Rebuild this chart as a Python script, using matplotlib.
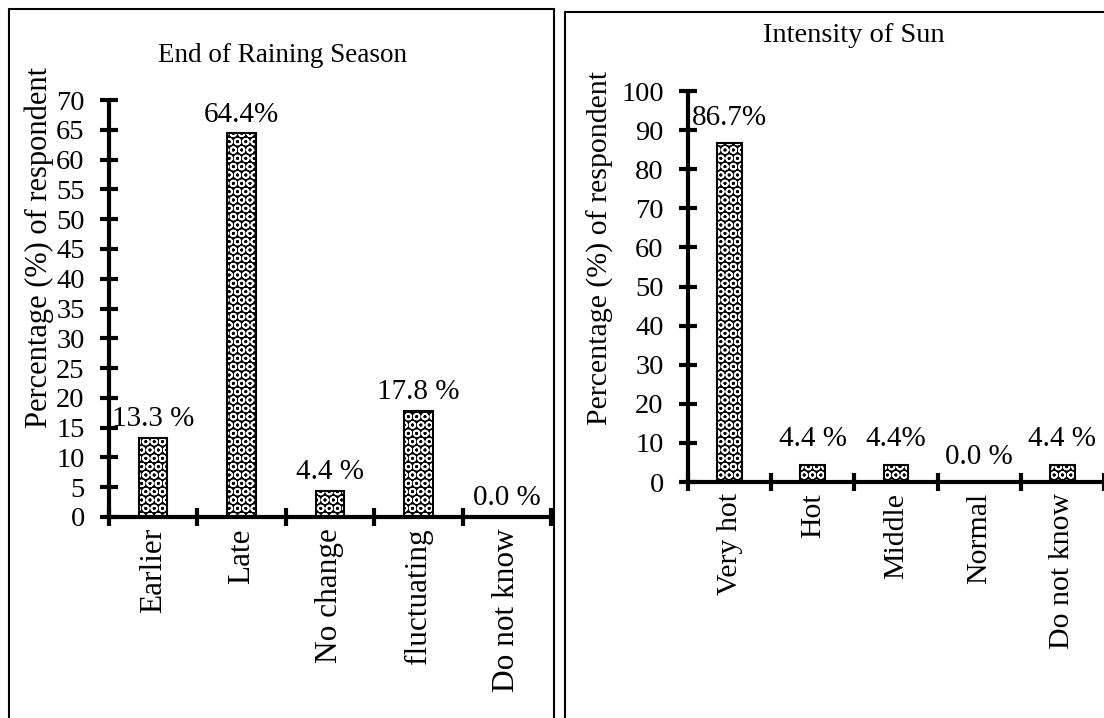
""" Survey bar charts: end of raining season and intensity of sun. """

import matplotlib.pyplot as plt
from matplotlib.patches import Rectangle

plt.rcParams['font.family'] = ['Liberation Serif', 'DejaVu Serif']
plt.rcParams['hatch.linewidth'] = 1.2

rain_labels = ["Earlier", "Late", "No change", "fluctuating", "Do not know"]
rain_values = [13.3, 64.4, 4.4, 17.8, 0.0]
rain_texts = ["13.3 %", "64.4%", "4.4 %", "17.8 %", "0.0 %"]

sun_labels = ["Very hot", "Hot", "Middle", "Normal", "Do not know"]
sun_values = [86.7, 4.4, 4.4, 0.0, 4.4]
sun_texts = ["86.7%", "4.4 %", "4.4%", "0.0 %", "4.4 %"]

W, H = 1104, 718


def draw_panel(ax, labels, values, texts, ymax, ystep, width, label_offset, cat_fs):
    x = [i + 0.5 for i in range(len(labels))]
    ax.bar(x, values, width=width, color='black', linewidth=0)
    ax.bar(x, values, width=width, color='none', edgecolor='white', hatch='OO', linewidth=0)
    ax.bar(x, values, width=width, color='none', edgecolor='black', linewidth=1.5)

    for xi, v, t in zip(x, values, texts):
        ax.annotate(t, (xi, v), xytext=(0, label_offset), textcoords='offset points',
                    ha='center', va='bottom', fontsize=21)

    ax.set_xlim(0, len(labels))
    ax.set_ylim(0, ymax)
    ax.set_yticks(range(0, ymax + 1, ystep))
    ax.set_xticks(x)
    ax.set_xticklabels(labels, rotation=90, va='top', ha='center', fontsize=cat_fs)
    ax.set_xticks(range(len(labels) + 1), minor=True)

    for side in ("top", "right"):
        ax.spines[side].set_visible(False)
    for side in ("left", "bottom"):
        ax.spines[side].set_linewidth(3)
        ax.spines[side].set_capstyle('butt')

    ax.tick_params(axis='y', direction='inout', length=13, width=3, pad=11, labelsize=20.5)
    ax.tick_params(axis='x', which='major', length=0, pad=8)
    ax.tick_params(axis='x', which='minor', direction='inout', length=13, width=3)
    for sp in ax.spines.values():
        sp.set_clip_on(False)


fig = plt.figure(figsize=(W / 100, H / 100), dpi=100)

ax1 = fig.add_axes([109 / W, (H - 517) / H, 442 / W, 417 / H])
draw_panel(ax1, rain_labels, rain_values, rain_texts, 70, 5, 0.32, 4, 22.5)

ax2 = fig.add_axes([688 / W, (H - 482) / H, 416 / W, 391 / H])
draw_panel(ax2, sun_labels, sun_values, sun_texts, 100, 10, 0.30, 9, 21.5)

fig.text(283 / W, (H - 55) / H, "End of Raining Season", ha='center', va='center', fontsize=19.5)
fig.text(854 / W, (H - 36) / H, "Intensity of Sun", ha='center', va='center', fontsize=20.5)

fig.text(39 / W, (H - 248) / H, "Percentage (%) of respondent", rotation=90,
         ha='center', va='center', fontsize=22)
fig.text(600 / W, (H - 248) / H, "Percentage (%) of respondent", rotation=90,
         ha='center', va='center', fontsize=21.5)

# panel frames
fig.add_artist(Rectangle((9 / W, -0.01), 545 / W, (H - 9) / H + 0.01,
                         transform=fig.transFigure, fill=False, ec='black', lw=1.5))
fig.add_artist(Rectangle((565 / W, -0.01), 550 / W, (H - 12) / H + 0.01,
                         transform=fig.transFigure, fill=False, ec='black', lw=1.5))

fig.savefig("out.png", dpi=100)
